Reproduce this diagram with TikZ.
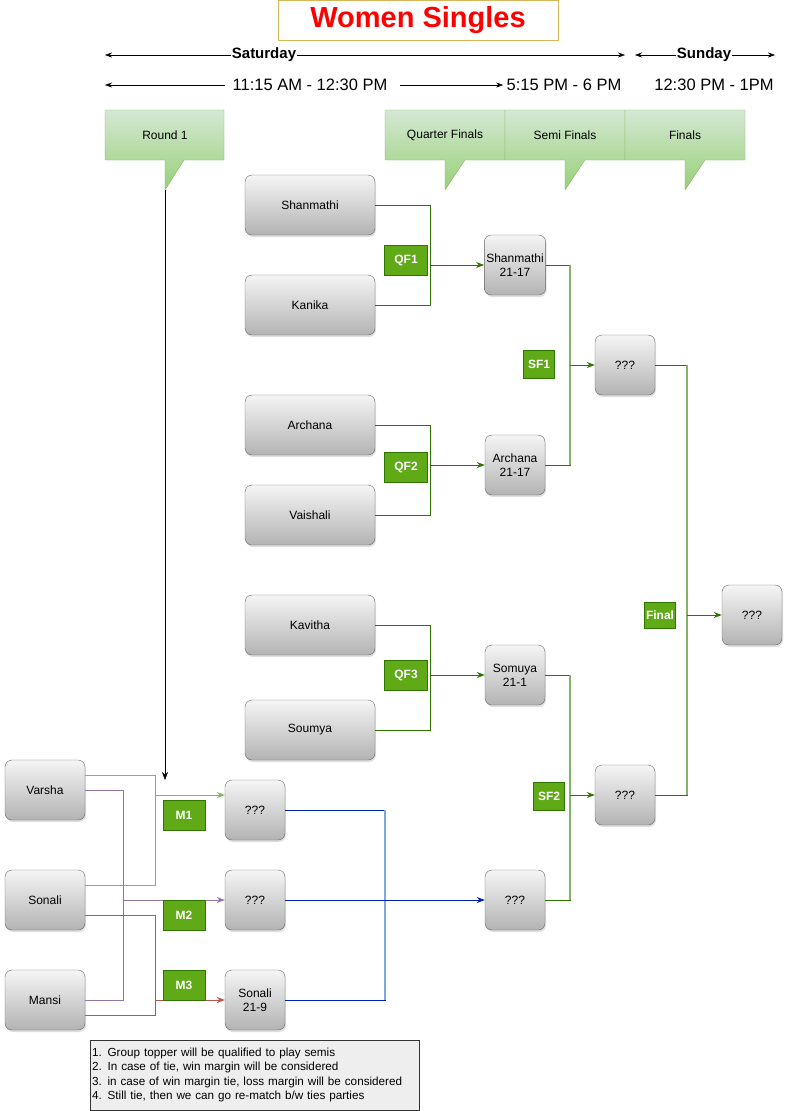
\documentclass[tikz,border=0pt]{standalone}
\usepackage{fontspec}
\setmainfont{Liberation Sans}
\usetikzlibrary{shadows,arrows.meta}
\definecolor{boxtop}{HTML}{F5F5F5}
\definecolor{boxbot}{HTML}{B3B3B3}
\definecolor{boxline}{HTML}{666666}
\definecolor{stagetop}{HTML}{D5E8D4}
\definecolor{stagebot}{HTML}{97D077}
\definecolor{stageline}{HTML}{82B366}
\definecolor{tagfill}{HTML}{60A917}
\definecolor{tagline}{HTML}{2D7600}
\definecolor{darkgrn}{HTML}{2D7600}
\definecolor{litegrn}{HTML}{82B366}
\definecolor{darkblu}{HTML}{001DBC}
\definecolor{liteblu}{HTML}{7EA6E0}
\definecolor{purp}{HTML}{9673A6}
\definecolor{redl}{HTML}{B85450}
\definecolor{titleline}{HTML}{D6B656}
\definecolor{notefill}{HTML}{EEEEEE}
\tikzset{
  tip/.style={-{Stealth[length=8pt,width=6pt]}},
  player/.style={draw=boxline, rounded corners=7pt, top color=boxtop, bottom color=boxbot,
    drop shadow={opacity=0.25,shadow xshift=1pt,shadow yshift=-2pt}, align=center, inner sep=2pt},
  wide/.style={player, minimum width=130pt, minimum height=60pt},
  sq/.style={player, minimum width=60pt, minimum height=60pt},
  side/.style={player, minimum width=80pt, minimum height=60pt},
  tag/.style={draw=tagline, fill=tagfill, text=white, inner sep=0pt,
    font=\fontsize{12}{14}\selectfont\bfseries},
  stage/.style={draw=stageline, top color=stagetop, bottom color=stagebot},
  gline/.style={draw=darkgrn, line width=0.9pt},
  lgline/.style={draw=litegrn, line width=1.1pt},
  bline/.style={draw=darkblu, line width=0.9pt},
  lbline/.style={draw=liteblu, line width=1.1pt},
  hdr/.style={font=\fontsize{16.5}{18}\selectfont},
  day/.style={font=\fontsize{15}{17}\selectfont\bfseries, fill=white, inner sep=1pt},
}
\begin{document}
\begin{tikzpicture}[x=1pt,y=-1pt,every node/.style={font=\fontsize{12}{14}\selectfont}]
\useasboundingbox (0,0) rectangle (790,1111);

\node[draw=titleline, fill=white, minimum width=280pt, minimum height=40pt,
  text=red, font=\fontsize{29}{31}\selectfont\bfseries] (title) at (418,20) {Women Singles};

\coordinate (satL) at (105,55);
\coordinate (satR) at (625,55);
\coordinate (sunL) at (635,55);
\coordinate (sunR) at (775,55);
\draw[{Stealth[length=7pt,width=5pt]}-{Stealth[length=7pt,width=5pt]}] (satL) -- (satR);
\draw[{Stealth[length=7pt,width=5pt]}-{Stealth[length=7pt,width=5pt]}] (sunL) -- (sunR);
\node[day] (sat) at (264,55) {Saturday};
\node[day] (sun) at (704,55) {Sunday};

\node[hdr] (t1) at (310,85) {11:15 AM - 12:30 PM};
\node[hdr] (t2) at (564,85) {5:15 PM - 6 PM};
\node[hdr] (t3) at (714,85) {12:30 PM - 1PM};
\coordinate (t1L) at (105,85);
\coordinate (t1R) at (400,85);
\draw[{Stealth[length=7pt,width=5pt]}-] (t1L) -- ([xshift=-4pt]t1.west);
\draw[-{Stealth[length=7pt,width=5pt]}] (t1R) -- (t2.west);

\draw[stage] (105,110) -- (224,110) -- (224,160) -- (184,160) -- (165,190) -- (165,160) -- (105,160) -- cycle;
\draw[stage] (385,110) -- (505,110) -- (505,160) -- (465,160) -- (445,190) -- (445,160) -- (385,160) -- cycle;
\draw[stage] (505,110) -- (625,110) -- (625,160) -- (585,160) -- (565,190) -- (565,160) -- (505,160) -- cycle;
\draw[stage] (625,110) -- (745,110) -- (745,160) -- (705,160) -- (685,190) -- (685,160) -- (625,160) -- cycle;
\node (r1) at (165,135) {Round 1};
\node (qf) at (445,135) {Quarter Finals};
\node (sf) at (565,135) {Semi Finals};
\node (fn) at (685,135) {Finals};

\coordinate (r1tip) at (165,190);
\coordinate (r1end) at (165,780);
\draw[tip] (r1tip) -- (r1end);

\node[wide] (shan) at (310,205) {Shanmathi};
\node[wide] (kan) at (310,305) {Kanika};
\node[wide] (arch) at (310,425) {Archana};
\node[wide] (vai) at (310,515) {Vaishali};
\node[wide] (kav) at (310,625) {Kavitha};
\node[wide] (sou) at (310,730) {Soumya};

\node[side] (var) at (45,790) {Varsha};
\node[side] (son) at (45,900) {Sonali};
\node[side] (man) at (45,1000) {Mansi};

\node[sq] (m1) at (255,810) {???};
\node[sq] (m2) at (255,900) {???};
\node[sq] (m3) at (255,1000) {Sonali\\21-9};

\node[sq] (qw1) at (515,265) {Shanmathi\\21-17};
\node[sq] (qw2) at (515,465) {Archana\\21-17};
\node[sq] (qw3) at (515,675) {Somuya\\21-1};
\node[sq] (mw) at (515,900) {???};

\node[sq] (sw1) at (625,365) {???};
\node[sq] (sw2) at (625,795) {???};
\node[sq] (champ) at (752,615) {???};

\coordinate (jq1) at (430,265);
\coordinate (jq2) at (430,465);
\coordinate (jq3) at (430,675);
\coordinate (js1) at (570,365);
\coordinate (js2) at (570,795);
\coordinate (jf) at (687,615);
\coordinate (jm1) at (155,795);
\coordinate (jm2) at (123,900);
\coordinate (jm3) at (155,1000);
\coordinate (jb) at (385,900);

\draw[gline] (shan.east) -| (jq1);
\draw[gline] (kan.east) -| (jq1);
\draw[gline,tip] (jq1) -- (qw1.west);
\draw[gline] (arch.east) -| (jq2);
\draw[gline] (vai.east) -| (jq2);
\draw[gline,tip] (jq2) -- (qw2.west);
\draw[gline] (kav.east) -| (jq3);
\draw[gline] (sou.east) -| (jq3);
\draw[gline,tip] (jq3) -- (qw3.west);

\draw[gline] (qw1.east) -| (js1);
\draw[gline] (qw2.east) -| (js1);
\draw[lgline] (qw1.east -| js1) -- (qw2.east -| js1);
\draw[gline,tip] (js1) -- (sw1.west);
\draw[gline] (qw3.east) -| (js2);
\draw[gline] (mw.east) -| (js2);
\draw[lgline] (qw3.east -| js2) -- (mw.east -| js2);
\draw[gline,tip] (js2) -- (sw2.west);

\draw[gline] (sw1.east) -| (jf);
\draw[gline] (sw2.east) -| (jf);
\draw[lgline] (sw1.east -| jf) -- (sw2.east -| jf);
\draw[gline,tip] (jf) -- (champ.west);

\draw[litegrn, line width=0.9pt] ([yshift=15pt]var.east) -| (jm1);
\draw[litegrn, line width=0.9pt] ([yshift=15pt]son.east) -| (jm1);
\draw[litegrn, line width=0.9pt, tip] (jm1) -- ([yshift=15pt]m1.west);
\draw[purp, line width=0.9pt] (var.east) -| (jm2);
\draw[purp, line width=0.9pt] (man.east) -| (jm2);
\draw[purp, line width=0.9pt, tip] (jm2) -- (m2.west);
\draw[redl, line width=0.9pt] ([yshift=-15pt]son.east) -| (jm3);
\draw[redl, line width=0.9pt] ([yshift=-15pt]man.east) -| (jm3);
\draw[redl, line width=0.9pt, tip] (jm3) -- (m3.west);

\draw[bline] (m1.east) -| (jb);
\draw[bline] (m3.east) -| (jb);
\draw[lbline] (m1.east -| jb) -- (m3.east -| jb);
\draw[bline,tip] (m2.east) -- (mw.west);

\node[tag, minimum width=43pt, minimum height=30pt] (qf1) at (406,260) {QF1};
\node[tag, minimum width=43pt, minimum height=30pt] (qf2) at (406,467) {QF2};
\node[tag, minimum width=43pt, minimum height=30pt] (qf3) at (406,675) {QF3};
\node[tag, minimum width=31pt, minimum height=28pt] (sf1) at (539,364) {SF1};
\node[tag, minimum width=31pt, minimum height=28pt] (sf2) at (549,796) {SF2};
\node[tag, minimum width=31pt, minimum height=26pt] (fin) at (660,615) {Final};
\node[tag, minimum width=42pt, minimum height=30pt] (mt1) at (184,815) {M1};
\node[tag, minimum width=42pt, minimum height=30pt] (mt2) at (184,915) {M2};
\node[tag, minimum width=42pt, minimum height=30pt] (mt3) at (184,985) {M3};

\node[draw=black!80, fill=notefill, text width=325pt, minimum height=70pt, align=left,
  inner xsep=2pt, inner ysep=2pt, font=\fontsize{11.7}{14.5}\selectfont] (note) at (254.5,1075)
  {1. Group topper will be qualified to play semis\\
   2. In case of tie, win margin will be considered\\
   3. in case of win margin tie, loss margin will be considered\\
   4. Still tie, then we can go re-match b/w ties parties};
\end{tikzpicture}
\end{document}
